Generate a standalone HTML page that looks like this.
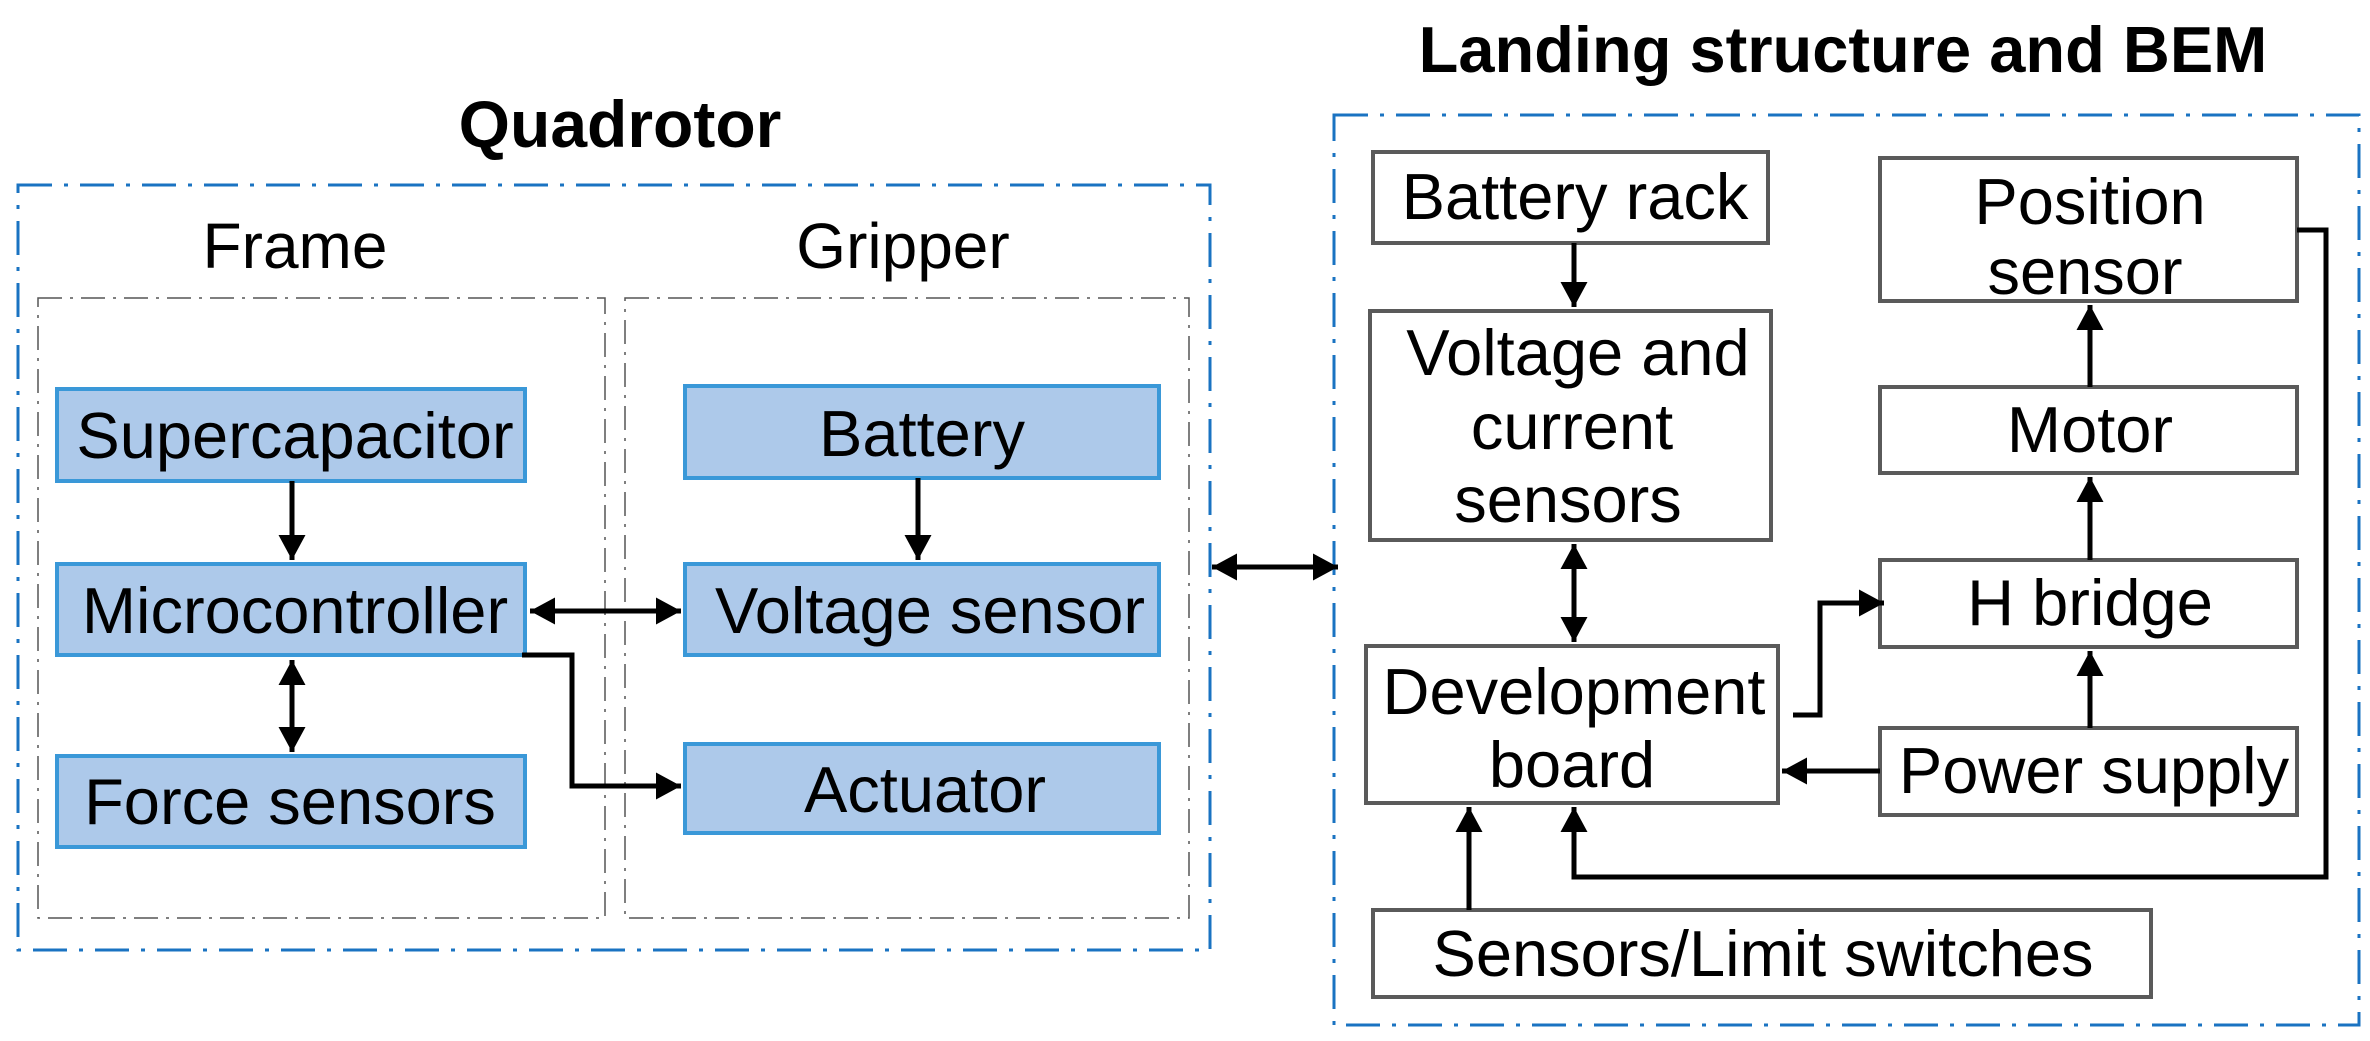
<!DOCTYPE html>
<html><head><meta charset="utf-8"><style>
html,body{margin:0;padding:0;background:#fff;}
svg{display:block;}
text{font-family:"Liberation Sans",Arial,sans-serif;fill:#000;}
</style></head><body>
<svg width="2370" height="1041" viewBox="0 0 2370 1041" xmlns="http://www.w3.org/2000/svg">
<defs>
<marker id="a" markerWidth="6" markerHeight="6" refX="5" refY="3" orient="auto-start-reverse" markerUnits="strokeWidth">
<path d="M0,0.3 L5,3 L0,5.7 z" fill="#000"/>
</marker>
</defs>
<text x="620" y="147" font-size="66" font-weight="bold" text-anchor="middle">Quadrotor</text>
<text x="1843" y="72" font-size="65" font-weight="bold" text-anchor="middle">Landing structure and BEM</text>

<rect x="18" y="185" width="1192" height="765" fill="none" stroke="#1a73c2" stroke-width="3" stroke-dasharray="34,12,4,12"/>
<rect x="1334" y="115" width="1025" height="910" fill="none" stroke="#1a73c2" stroke-width="3" stroke-dasharray="34,12,4,12"/>

<rect x="38" y="298" width="567" height="620" fill="none" stroke="#555" stroke-width="1.5" stroke-dasharray="24,8,3,8"/>
<rect x="625" y="298" width="564" height="620" fill="none" stroke="#555" stroke-width="1.5" stroke-dasharray="24,8,3,8"/>
<text x="295" y="268" font-size="64" text-anchor="middle">Frame</text>
<text x="903" y="268" font-size="64" text-anchor="middle">Gripper</text>

<g fill="#adc9ea" stroke="#3a98d8" stroke-width="4">
<rect x="57" y="389" width="468" height="92"/>
<rect x="57" y="564" width="468" height="91"/>
<rect x="57" y="756" width="468" height="91"/>
<rect x="685" y="386" width="474" height="92"/>
<rect x="685" y="564" width="474" height="91"/>
<rect x="685" y="744" width="474" height="89"/>
</g>
<g font-size="65" text-anchor="middle">
<text x="295" y="458">Supercapacitor</text>
<text x="295" y="633">Microcontroller</text>
<text x="290" y="824">Force sensors</text>
<text x="922" y="456">Battery</text>
<text x="930" y="633">Voltage sensor</text>
<text x="925" y="812">Actuator</text>
</g>

<g fill="#fff" stroke="#5a5a5a" stroke-width="4">
<rect x="1373" y="152" width="395" height="91"/>
<rect x="1370" y="311" width="401" height="229"/>
<rect x="1366" y="646" width="412" height="157"/>
<rect x="1373" y="910" width="778" height="87"/>
<rect x="1880" y="158" width="417" height="143"/>
<rect x="1880" y="387" width="417" height="86"/>
<rect x="1880" y="560" width="417" height="87"/>
<rect x="1880" y="728" width="417" height="87"/>
</g>
<g font-size="65" text-anchor="middle">
<text x="1575" y="219">Battery rack</text>
<text x="1578" y="375">Voltage and</text>
<text x="1572" y="449">current</text>
<text x="1568" y="522">sensors</text>
<text x="1574" y="714">Development</text>
<text x="1572" y="787">board</text>
<text x="1763" y="976">Sensors/Limit switches</text>
<text x="2090" y="224">Position</text>
<text x="2085" y="294">sensor</text>
<text x="2090" y="452">Motor</text>
<text x="2090" y="625">H bridge</text>
<text x="2094" y="793">Power supply</text>
</g>

<g stroke="#000" stroke-width="5" fill="none">
<line x1="292" y1="481" x2="292" y2="560" marker-end="url(#a)"/>
<line x1="292" y1="660" x2="292" y2="752" marker-start="url(#a)" marker-end="url(#a)"/>
<line x1="530" y1="611" x2="681" y2="611" marker-start="url(#a)" marker-end="url(#a)"/>
<polyline points="522,655 572,655 572,786 681,786" marker-end="url(#a)"/>
<line x1="918" y1="478" x2="918" y2="560" marker-end="url(#a)"/>
<line x1="1212" y1="567" x2="1338" y2="567" marker-start="url(#a)" marker-end="url(#a)"/>

<line x1="1574" y1="243" x2="1574" y2="307" marker-end="url(#a)"/>
<line x1="1574" y1="544" x2="1574" y2="642" marker-start="url(#a)" marker-end="url(#a)"/>
<polyline points="1793,715 1820,715 1820,603 1884,603" marker-end="url(#a)"/>
<line x1="1880" y1="771" x2="1782" y2="771" marker-end="url(#a)"/>
<line x1="2090" y1="728" x2="2090" y2="651" marker-end="url(#a)"/>
<line x1="2090" y1="560" x2="2090" y2="477" marker-end="url(#a)"/>
<line x1="2090" y1="387" x2="2090" y2="305" marker-end="url(#a)"/>
<polyline points="2297,230 2326,230 2326,877 1574,877 1574,807" marker-end="url(#a)"/>
<line x1="1469" y1="910" x2="1469" y2="807" marker-end="url(#a)"/>
</g>
</svg>
</body></html>
